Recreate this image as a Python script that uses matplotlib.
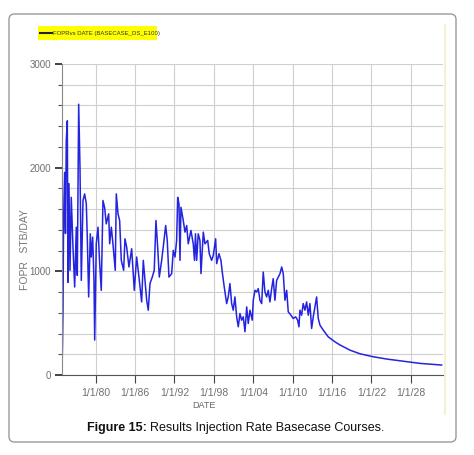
import matplotlib.pyplot as plt
from matplotlib.patches import FancyBboxPatch, Rectangle
from matplotlib.lines import Line2D
from matplotlib import font_manager

# FOPR vs DATE (decimal years, STB/DAY)
years = [1974.87, 1974.95, 1975.02, 1975.10, 1975.17, 1975.28, 1975.40, 1975.52, 1975.68, 1975.78,
         1975.93, 1976.09, 1976.28, 1976.54, 1976.80, 1977.05, 1977.20, 1977.41, 1977.61, 1977.81,
         1978.07, 1978.32, 1978.57, 1978.72, 1978.93, 1979.18, 1979.33, 1979.54, 1979.74, 1979.85,
         1980.09, 1980.35, 1980.61, 1980.85, 1981.11, 1981.37, 1981.61, 1981.98, 1982.13, 1982.38,
         1982.63, 1982.98, 1983.14, 1983.40, 1983.65, 1983.90, 1984.26, 1984.46, 1984.72, 1985.07,
         1985.48, 1985.88, 1986.24, 1986.59, 1987.00, 1987.25, 1987.51, 1987.77, 1988.01, 1988.27,
         1988.62, 1988.92, 1989.18, 1989.44, 1989.69, 1990.05, 1990.29, 1990.66, 1990.90, 1991.16,
         1991.57, 1991.82, 1992.08, 1992.33, 1992.49, 1992.69, 1992.84, 1992.99, 1993.34, 1993.60,
         1993.86, 1994.10, 1994.51, 1994.86, 1995.05, 1995.20, 1995.38, 1995.62, 1995.88, 1996.04,
         1996.39, 1996.64, 1997.06, 1997.30, 1997.66, 1997.91, 1998.27, 1998.43, 1998.78, 1999.08,
         1999.28, 1999.58, 1999.95, 2000.19, 2000.45, 2000.71, 2000.95, 2001.21, 2001.47, 2001.72,
         2001.97, 2002.23, 2002.48, 2002.74, 2003.00, 2003.24, 2003.50, 2003.85, 2004.00, 2004.26,
         2004.52, 2004.76, 2005.02, 2005.28, 2005.52, 2005.78, 2006.04, 2006.28, 2006.54, 2006.80,
         2007.04, 2007.30, 2007.56, 2007.81, 2008.07, 2008.33, 2008.57, 2008.83, 2009.09, 2009.33,
         2009.74, 2010.09, 2010.46, 2010.76, 2010.96, 2011.11, 2011.37, 2011.61, 2011.87, 2012.13,
         2012.38, 2012.63, 2012.89, 2013.14, 2013.40, 2013.65, 2013.90, 2014.16, 2014.66, 2015.42,
         2016.44, 2017.20, 2018.72, 2020.24, 2022.27, 2024.31, 2026.34, 2029.39, 2032.69]
fopr = [40, 300, 625, 1400, 1683, 1955, 1365, 2260, 2452, 894,
        1846, 1010, 1714, 1234, 849, 1426, 961, 2612, 2003, 913,
        1683, 1747, 1654, 1330, 753, 1362, 1138, 1330, 913, 337,
        1266, 1426, 1074, 817, 1683, 1613, 1458, 1555, 1266, 1426,
        1266, 1010, 1747, 1555, 1490, 1106, 1010, 1314, 1234, 1042,
        1218, 817, 1138, 945, 705, 1106, 913, 720, 625, 882,
        945, 1010, 1490, 1234, 945, 1106, 1234, 1442, 1298, 945,
        977, 1202, 1138, 1298, 1714, 1650, 1106, 1618, 1490, 1378,
        1442, 1266, 1394, 1266, 1106, 1362, 1106, 1362, 1298, 978,
        1378, 1266, 1298, 1170, 1106, 1154, 1314, 1074, 1170, 1106,
        993, 849, 689, 753, 882, 689, 625, 753, 561, 465,
        593, 529, 561, 417, 657, 497, 625, 529, 721, 817,
        801, 833, 721, 689, 993, 801, 753, 817, 705, 833,
        929, 721, 913, 945, 977, 1042, 977, 721, 817, 609,
        577, 545, 561, 529, 465, 625, 577, 689, 625, 705,
        577, 689, 449, 561, 657, 753, 545, 481, 433, 368,
        320, 290, 240, 205, 176, 154, 137, 112, 96]

tick_years = [1980, 1986, 1992, 1998, 2004, 2010, 2016, 2022, 2028]
tick_labels = ['1/1/80', '1/1/86', '1/1/92', '1/1/98', '1/1/04',
               '1/1/10', '1/1/16', '1/1/22', '1/1/28']
y_major = [0, 1000, 2000, 3000]
y_minor = list(range(0, 3001, 200))

# a narrow face if one is installed, otherwise plain Liberation Sans
names = {f.name for f in font_manager.fontManager.ttflist}
narrow = 'Liberation Sans Narrow' if 'Liberation Sans Narrow' in names else 'Liberation Sans'
W, H = 474, 455

fig = plt.figure(figsize=(4.74, 4.55), dpi=100)

# outer rounded frame
frame = FancyBboxPatch((9 / W, 1 - 442 / H), 447 / W, 428 / H,
                       boxstyle='round,pad=0,rounding_size=0.012',
                       transform=fig.transFigure, facecolor='white',
                       edgecolor='#9a9a9a', linewidth=1.0, zorder=-5)
fig.add_artist(frame)

# pale right edge of the embedded chart image
fig.add_artist(Line2D([445 / W, 445 / W], [1 - 25 / H, 1 - 414 / H],
                      transform=fig.transFigure, color='#f3f1cf', lw=1.5, zorder=-4))

ax = fig.add_axes([62 / W, 1 - 375 / H, 381 / W, 311 / H])
ax.set_facecolor('none')
ax.plot(years, fopr, color='#2323e0', lw=1.1)

ax.set_xlim(1974.87, 2032.9)
ax.set_ylim(0, 3000)
ax.set_xticks(tick_years)
ax.set_xticklabels(tick_labels, family=narrow, fontsize=7.5, color='#707070')
ax.set_yticks(y_major)
ax.set_yticklabels([str(v) for v in y_major], family=narrow, fontsize=7, color='#707070')
ax.set_yticks(y_minor, minor=True)

ax.grid(True, which='major', axis='x', color='#cfcfcf', lw=0.8)
ax.grid(True, which='both', axis='y', color='#cfcfcf', lw=0.8)
ax.set_axisbelow(True)

ax.tick_params(axis='y', which='major', length=5, width=1.2, color='#222222', pad=3)
ax.tick_params(axis='y', which='minor', length=3, width=0.8, color='#555555')
ax.tick_params(axis='x', which='major', length=6, width=0.8, color='#444444', pad=3)
for s in ['top', 'right']:
    ax.spines[s].set_visible(False)
ax.spines['left'].set_color('#888888')
ax.spines['bottom'].set_color('#555555')

# axis titles placed as in the reference
fig.text(204 / W, 1 - 405 / H, 'DATE', ha='center', va='center',
         family=narrow, fontsize=6.5, color='#666666')
fig.text(25 / W, 1 - 250 / H, 'FOPR   STB/DAY', ha='center', va='center',
         rotation=90, family=narrow, fontsize=7.5, color='#777777')

# legend strip
fig.add_artist(Rectangle((38 / W, 1 - 40 / H), 119 / W, 14 / H,
                         transform=fig.transFigure, facecolor='#ffff00',
                         edgecolor='none', zorder=2))
fig.add_artist(Line2D([40 / W, 52 / W], [1 - 32.5 / H, 1 - 32.5 / H],
                      transform=fig.transFigure, color='#202040', lw=1.5, zorder=3))
fig.text(53 / W, 1 - 33 / H, 'FOPRvs DATE (BASECASE_DS_E100)', ha='left', va='center',
         family=narrow, fontsize=4.3, color='#333333', zorder=4)

# caption: bold lead-in followed by regular text
renderer = fig.canvas.get_renderer()
lead = fig.text(87 / W, 1 - 428 / H, 'Figure 15:', ha='left', va='center',
                family='Liberation Sans', fontweight='bold', fontsize=9, color='#111111')
x_end = lead.get_window_extent(renderer).x1 / fig.bbox.width
fig.text(x_end + 3 / W, 1 - 428 / H, 'Results Injection Rate Basecase Courses.',
         ha='left', va='center', family='Liberation Sans', fontsize=9, color='#111111')

fig.savefig('out.png', dpi=100)
